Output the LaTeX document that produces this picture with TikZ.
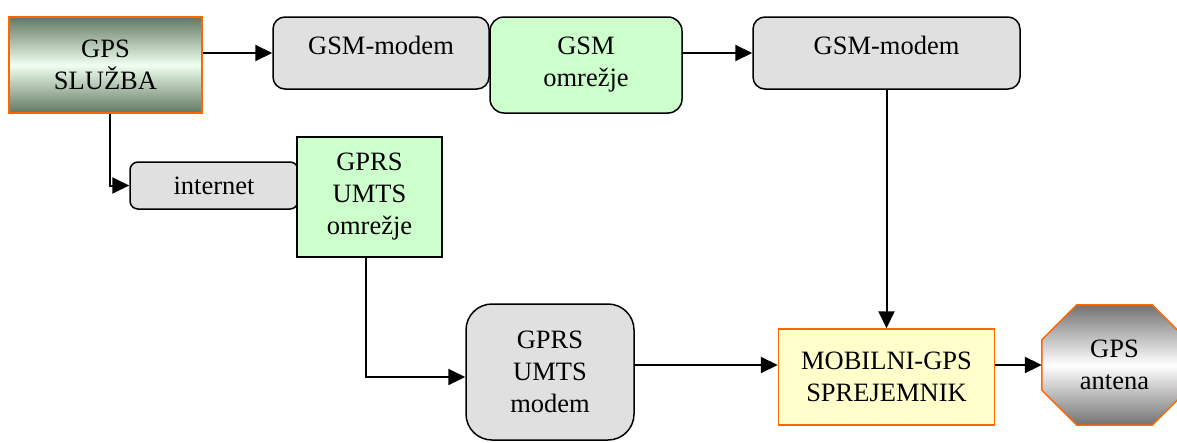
\documentclass[tikz,border=0pt]{standalone}
\usepackage{fontspec}
\setmainfont{Liberation Serif}
\usetikzlibrary{arrows.meta,calc,positioning}
\definecolor{boxgray}{RGB}{224,224,224}
\definecolor{netgreen}{RGB}{204,255,204}
\definecolor{rxyellow}{RGB}{255,255,204}
\definecolor{edgeorange}{RGB}{255,102,0}
\definecolor{darkgreen}{RGB}{98,120,98}
\tikzset{%
	block/.style    = {draw, line width=1.5pt, rectangle, inner sep=0pt, align=center}, % box
	modembox/.style = {block, fill=boxgray, rounded corners=12pt},
	netbox/.style   = {block, fill=netgreen},
	orangebox/.style= {block, draw=edgeorange},
	arrow/.style    = {line width=2pt, -{Triangle[length=17pt,width=16pt]}},
}
\begin{document}
\begin{tikzpicture}[x=1pt, y=-1pt, font=\fontsize{26.5}{32}\selectfont]
	\useasboundingbox (0,0) rectangle (1177,442);
	% top row
	\node[orangebox, minimum width=193pt, minimum height=96pt, top color=darkgreen, bottom color=darkgreen, middle color=green!6] (sluzba) at (105.5,65) {GPS\\SLUŽBA};
	\node[modembox, minimum width=216pt, minimum height=72pt, text depth=15pt] (modemA) at (381,53) {GSM-modem};
	\node[netbox, rounded corners=14pt, minimum width=192pt, minimum height=96pt] (gsmnet) at (586,65) {GSM\\omrežje};
	\node[modembox, minimum width=267pt, minimum height=72pt, text depth=15pt] (modemB) at (886.5,53) {GSM-modem};
	% middle row
	\node[modembox, rounded corners=8pt, minimum width=168pt, minimum height=47pt] (internet) at (214,185.5) {internet};
	\node[netbox, minimum width=145pt, minimum height=120pt] (umtsnet) at (369.5,197) {GPRS\\UMTS\\omrežje};
	% bottom row
	\node[modembox, rounded corners=26pt, minimum width=168pt, minimum height=136pt] (gprsmodem) at (550,372) {GPRS\\UMTS\\modem};
	\node[orangebox, fill=rxyellow, minimum width=216pt, minimum height=96pt] (mobilni) at (886.5,377) {MOBILNI-GPS\\SPREJEMNIK};
	% octagonal antenna
	\node[inner sep=0pt, minimum width=145pt, minimum height=120pt, align=center] (antena) at (1114.5,365) {};
	\shade[draw=edgeorange, line width=1.5pt, top color=black!55, bottom color=black!55, middle color=white]
		([xshift=35pt]antena.north west) -- ([xshift=-35pt]antena.north east)
		-- ([yshift=-35pt]antena.north east) -- ([yshift=35pt]antena.south east)
		-- ([xshift=-35pt]antena.south east) -- ([xshift=35pt]antena.south west)
		-- ([yshift=35pt]antena.south west) -- ([yshift=-35pt]antena.north west) -- cycle;
	\node[align=center] at (antena) {GPS\\antena};

	\draw[arrow] (sluzba.east |- modemA.west) -- (modemA.west);
	\draw[arrow] (gsmnet.east |- modemB.west) -- (modemB.west);
	\draw[arrow] (modemB.south) -- (mobilni.north);
	\draw[arrow] ([xshift=4.5pt]sluzba.south) |- (internet.west);
	\draw[arrow] ([xshift=-3.5pt]umtsnet.south) |- ([yshift=-5pt]gprsmodem.west);
	\draw[arrow] ([yshift=7pt]gprsmodem.east) -- ([yshift=12pt]mobilni.west);
	\draw[arrow] (mobilni.east |- antena.west) -- (antena.west);
\end{tikzpicture}
\end{document}
